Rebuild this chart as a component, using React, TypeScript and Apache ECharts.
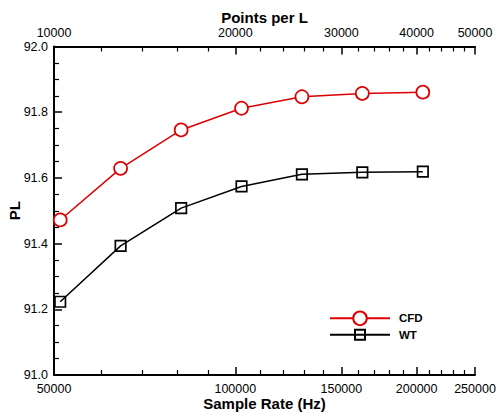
import React, { useEffect, useRef } from "react";
import * as echarts from "echarts";

// Data
const sampleRates = [51200, 64500, 81300, 102400, 129000, 162500, 204800];
const cfdValues = [91.472, 91.629, 91.746, 91.812, 91.847, 91.857, 91.861];
const wtValues = [91.223, 91.393, 91.508, 91.574, 91.611, 91.617, 91.619];

const bottomTicks = [50000, 100000, 150000, 200000, 250000];
const bottomMinorTicks = [
  60000, 70000, 80000, 90000, 110000, 120000, 130000, 140000, 160000, 170000,
  180000, 190000, 210000, 220000, 230000, 240000,
];
const topTicks = [10000, 20000, 30000, 40000, 50000];
const topMinorTicks = [
  12000, 14000, 16000, 18000, 22000, 24000, 26000, 28000, 32000, 34000, 36000,
  38000, 42000, 44000, 46000, 48000,
];

const FONT = "'Liberation Sans', Arial, Helvetica, sans-serif";
const RED = "#dd0000";
const L = (v: number) => Math.log10(v);

export default function App() {
  const ref = useRef<HTMLDivElement>(null);

  useEffect(() => {
    if (!ref.current) return;
    const chart = echarts.init(ref.current, undefined, { renderer: "svg" });

    const axisLine = { show: true, lineStyle: { color: "#000", width: 2 } };
    const labelStyle = { color: "#000", fontFamily: FONT, fontSize: 12.5 };
    const nameStyle = { color: "#000", fontFamily: FONT, fontSize: 15, fontWeight: "bold" as const };
    const fmt = (v: number) => String(Math.round(Math.pow(10, v) / 1000) * 1000);

    chart.setOption({
      animation: false,
      backgroundColor: "#fff",
      grid: { left: 54, right: 23, top: 46.5, bottom: 42, containLabel: false, outerBoundsMode: "none" },
      xAxis: [
        {
          type: "value",
          position: "bottom",
          min: L(50000),
          max: L(250000),
          axisLine,
          splitLine: { show: false },
          axisTick: {
            show: true,
            inside: true,
            length: 8,
            customValues: bottomTicks.map(L),
            lineStyle: { color: "#000", width: 1.5 },
          },
          axisLabel: {
            show: true,
            customValues: bottomTicks.map(L),
            formatter: fmt,
            margin: 7,
            ...labelStyle,
          },
          name: "Sample Rate (Hz)",
          nameLocation: "middle",
          nameGap: 21,
          nameMoveOverlap: false,
          nameTextStyle: nameStyle,
        },
        {
          type: "value",
          position: "bottom",
          min: L(50000),
          max: L(250000),
          axisLine: { show: false },
          splitLine: { show: false },
          axisTick: {
            show: true,
            inside: true,
            length: 5,
            customValues: bottomMinorTicks.map(L),
            lineStyle: { color: "#000", width: 1.2 },
          },
          axisLabel: { show: false },
        },
        {
          type: "value",
          position: "top",
          min: L(10000),
          max: L(50000),
          axisLine,
          splitLine: { show: false },
          axisTick: {
            show: true,
            inside: true,
            length: 8,
            customValues: topTicks.map(L),
            lineStyle: { color: "#000", width: 1.5 },
          },
          axisLabel: {
            show: true,
            customValues: topTicks.map(L),
            formatter: fmt,
            margin: 7,
            ...labelStyle,
          },
          name: "Points per L",
          nameLocation: "middle",
          nameGap: 22,
          nameMoveOverlap: false,
          nameTextStyle: nameStyle,
        },
        {
          type: "value",
          position: "top",
          min: L(10000),
          max: L(50000),
          axisLine: { show: false },
          splitLine: { show: false },
          axisTick: {
            show: true,
            inside: true,
            length: 5,
            customValues: topMinorTicks.map(L),
            lineStyle: { color: "#000", width: 1.2 },
          },
          axisLabel: { show: false },
        },
      ],
      yAxis: {
        type: "value",
        position: "left",
        min: 91,
        max: 92,
        interval: 0.2,
        axisLine,
        splitLine: { show: false },
        axisTick: { show: true, inside: true, length: 8, lineStyle: { color: "#000", width: 1.5 } },
        minorTick: { show: true, splitNumber: 4, length: 5, lineStyle: { color: "#000", width: 1.2 } },
        minorSplitLine: { show: false },
        axisLabel: {
          formatter: (v: number) => v.toFixed(1),
          margin: 6,
          ...labelStyle,
        },
        name: "PL",
        nameLocation: "middle",
        nameGap: 32,
        nameMoveOverlap: false,
        nameTextStyle: nameStyle,
      },
      legend: [
        {
          data: ["CFD"],
          orient: "vertical",
          left: 324,
          top: 305.5,
          itemWidth: 60,
          itemHeight: 17,
          selectedMode: false,
          textStyle: { color: "#000", fontFamily: FONT, fontSize: 11.5, fontWeight: "bold", padding: [0, 0, 0, 4] },
        },
        {
          data: ["WT"],
          orient: "vertical",
          left: 324,
          top: 323.75,
          itemWidth: 60,
          itemHeight: 12.5,
          selectedMode: false,
          textStyle: { color: "#000", fontFamily: FONT, fontSize: 11.5, fontWeight: "bold", padding: [0, 0, 0, 4] },
        },
      ],
      series: [
        {
          name: "CFD",
          type: "line",
          xAxisIndex: 0,
          yAxisIndex: 0,
          data: sampleRates.map((s, i) => [L(s), cfdValues[i]]),
          symbol: "circle",
          symbolSize: 13,
          showAllSymbol: true,
          lineStyle: { color: RED, width: 1.5 },
          itemStyle: { color: "#fff", borderColor: RED, borderWidth: 1.7 },
          emphasis: { disabled: true },
          z: 3,
        },
        {
          name: "WT",
          type: "line",
          xAxisIndex: 0,
          yAxisIndex: 0,
          data: sampleRates.map((s, i) => [L(s), wtValues[i]]),
          symbol: "rect",
          symbolSize: 10.5,
          showAllSymbol: true,
          lineStyle: { color: "#000", width: 1.5 },
          itemStyle: { color: "rgba(255,255,255,0)", borderColor: "#000", borderWidth: 1.7 },
          emphasis: { disabled: true },
          z: 2,
        },
      ],
    });

    return () => chart.dispose();
  }, []);

  return (
    <div
      ref={ref}
      style={{ position: "fixed", left: 0, top: 0, width: 498, height: 417, background: "#fff" }}
    />
  );
}
